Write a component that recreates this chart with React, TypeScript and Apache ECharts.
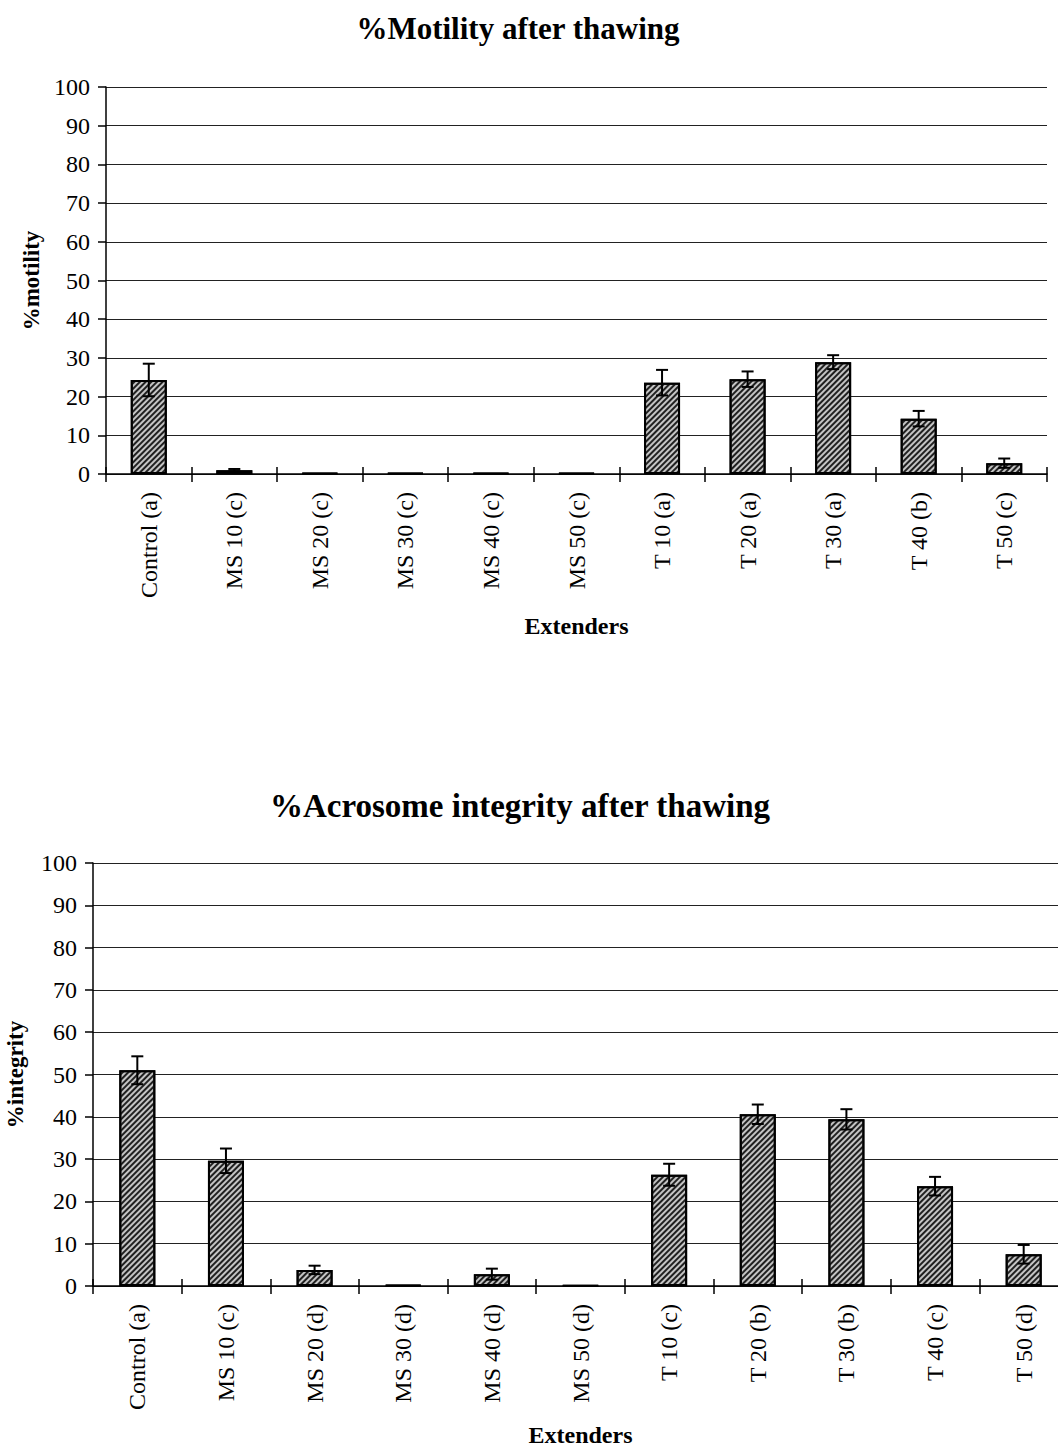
import React, { useEffect, useRef } from "react";
import * as echarts from "echarts";

// Extender groups (letters = statistical groupings)
const motilityCategories = [
  "Control (a)", "MS 10 (c)", "MS 20 (c)", "MS 30 (c)", "MS 40 (c)", "MS 50 (c)",
  "T 10 (a)", "T 20 (a)", "T 30 (a)", "T 40 (b)", "T 50 (c)",
];
const motilityMeans = [24.3, 1.0, 0.2, 0.2, 0.2, 0.2, 23.6, 24.5, 28.9, 14.3, 2.8];
const motilitySD = [4.2, 0.3, 0, 0, 0, 0, 3.3, 2.0, 1.8, 2.0, 1.2];

const integrityCategories = [
  "Control (a)", "MS 10 (c)", "MS 20 (d)", "MS 30 (d)", "MS 40 (d)", "MS 50 (d)",
  "T 10 (c)", "T 20 (b)", "T 30 (b)", "T 40 (c)", "T 50 (d)",
];
const integrityMeans = [51.0, 29.6, 3.8, 0.2, 2.8, 0.1, 26.3, 40.6, 39.4, 23.6, 7.5];
const integritySD = [3.3, 2.9, 1.0, 0, 1.3, 0, 2.6, 2.3, 2.4, 2.2, 2.2];

const yTicks = [0, 10, 20, 30, 40, 50, 60, 70, 80, 90, 100];

const SERIF = "'Liberation Serif', 'Times New Roman', serif";

const errorData = (means: number[], sd: number[]) =>
  means
    .map((m, i) => [i, m - sd[i], m + sd[i], sd[i]])
    .filter((d) => d[3] > 0);

const renderErrorBar = (params: any, api: any) => {
  const x = api.value(0);
  const lo = api.coord([x, api.value(1)]);
  const hi = api.coord([x, api.value(2)]);
  const half = 6;
  const style = { stroke: "#000", lineWidth: 2 };
  return {
    type: "group",
    children: [
      { type: "line", shape: { x1: hi[0], y1: hi[1], x2: lo[0], y2: lo[1] }, style },
      { type: "line", shape: { x1: hi[0] - half, y1: hi[1], x2: hi[0] + half, y2: hi[1] }, style },
      { type: "line", shape: { x1: lo[0] - half, y1: lo[1], x2: lo[0] + half, y2: lo[1] }, style },
    ],
  };
};

const barStyle = {
  color: "#c4c4c4",
  borderColor: "#000",
  borderWidth: 2,
  decal: {
    symbol: "rect",
    symbolSize: 1,
    color: "#202020",
    dashArrayX: [1, 0],
    dashArrayY: [1.5, 1.7],
    rotation: -Math.PI / 4,
  },
};

const valueAxis = (gridIndex: number, name: string, nameGap: number, labelMargin: number) => ({
  type: "value",
  gridIndex,
  min: yTicks[0],
  max: yTicks[yTicks.length - 1],
  interval: 10,
  name,
  nameLocation: "middle",
  nameGap,
  nameRotate: 90,
  nameTextStyle: { fontFamily: SERIF, fontWeight: "bold", fontSize: 23, color: "#000" },
  axisLine: { show: true, lineStyle: { color: "#000", width: 1.5 } },
  axisTick: { show: true, length: 8, lineStyle: { color: "#000", width: 1.5 } },
  axisLabel: { fontFamily: SERIF, fontSize: 24, color: "#000", margin: labelMargin },
  splitLine: { show: true, lineStyle: { color: "#222", width: 1.2 } },
});

const categoryAxis = (gridIndex: number, data: string[], nameGap: number) => ({
  type: "category",
  gridIndex,
  data,
  name: "Extenders",
  nameLocation: "middle",
  nameGap,
  nameTextStyle: { fontFamily: SERIF, fontWeight: "bold", fontSize: 24, color: "#000" },
  axisLine: { show: true, lineStyle: { color: "#000", width: 1.5 } },
  axisTick: { show: true, length: 8, lineStyle: { color: "#000", width: 1.5 } },
  axisLabel: { fontFamily: SERIF, fontSize: 24, color: "#000", rotate: 90, margin: 18, interval: 0 },
});

// Companion axis: draws the upward half of the category ticks
const innerTickAxis = (gridIndex: number, data: string[]) => ({
  type: "category",
  gridIndex,
  data,
  position: "bottom",
  axisLine: { show: false },
  axisLabel: { show: false },
  axisTick: { show: true, inside: true, length: 7, lineStyle: { color: "#000", width: 1.5 } },
  splitLine: { show: false },
});

export default function App() {
  const ref = useRef<HTMLDivElement>(null);

  useEffect(() => {
    if (!ref.current) return;
    const chart = echarts.init(ref.current, undefined, { renderer: "svg" });
    chart.setOption({
      animation: false,
      backgroundColor: "#fff",
      graphic: [
        {
          type: "text",
          x: 518,
          y: 28,
          style: {
            text: "%Motility after thawing",
            font: `bold 31px ${SERIF}`,
            fill: "#000",
            textAlign: "center",
            textVerticalAlign: "middle",
          },
        },
        {
          type: "text",
          x: 520,
          y: 806,
          style: {
            text: "%Acrosome integrity after thawing",
            font: `bold 33px ${SERIF}`,
            fill: "#000",
            textAlign: "center",
            textVerticalAlign: "middle",
          },
        },
      ],
      grid: [
        { left: 106, top: 87, width: 941, height: 387, outerBoundsMode: "none", containLabel: false },
        { left: 93, top: 863, width: 975, height: 423, outerBoundsMode: "none", containLabel: false },
      ],
      xAxis: [
        categoryAxis(0, motilityCategories, 140),
        categoryAxis(1, integrityCategories, 137),
        innerTickAxis(0, motilityCategories),
        innerTickAxis(1, integrityCategories),
      ],
      yAxis: [
        valueAxis(0, "%motility", 62, 16),
        valueAxis(1, "%integrity", 66, 16),
      ],
      series: [
        {
          type: "bar",
          xAxisIndex: 0,
          yAxisIndex: 0,
          data: motilityMeans,
          barWidth: 36,
          itemStyle: barStyle,
        },
        {
          type: "custom",
          xAxisIndex: 0,
          yAxisIndex: 0,
          renderItem: renderErrorBar,
          data: errorData(motilityMeans, motilitySD),
          z: 10,
        },
        {
          type: "bar",
          xAxisIndex: 1,
          yAxisIndex: 1,
          data: integrityMeans,
          barWidth: 36,
          itemStyle: barStyle,
        },
        {
          type: "custom",
          xAxisIndex: 1,
          yAxisIndex: 1,
          renderItem: renderErrorBar,
          data: errorData(integrityMeans, integritySD),
          z: 10,
        },
      ],
    });
    return () => chart.dispose();
  }, []);

  return (
    <div
      ref={ref}
      style={{ position: "absolute", left: 0, top: 0, width: 1058, height: 1448, background: "#fff" }}
    />
  );
}
